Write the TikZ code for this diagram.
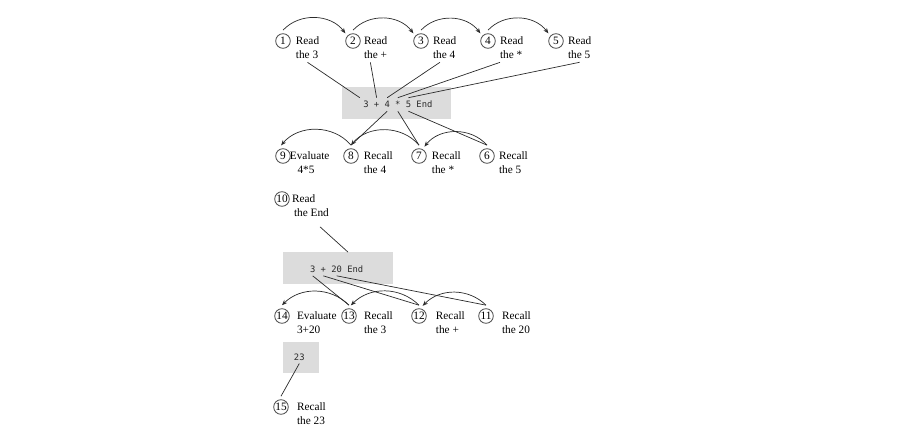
\documentclass[tikz,border=0pt]{standalone}
\usepackage{fontspec}
\setmainfont{Liberation Serif}
\newfontfamily\codefont{DejaVu Sans Mono}
\usetikzlibrary{arrows.meta}
\definecolor{stepgray}{HTML}{4A4A4A}
\definecolor{linegray}{HTML}{2B2B2B}
\definecolor{codebg}{HTML}{DCDCDC}
\tikzset{
	stepnum/.style={circle, draw=stepgray, line width=0.7pt, inner sep=0pt,
		minimum size=12.4pt, outer sep=3pt, font=\fontsize{9.6}{11.9}\selectfont},
	steptext/.style={anchor=base west, align=left, inner sep=0pt, yshift=-11.9pt,
		outer xsep=0pt, outer ysep=3pt, font=\fontsize{9.6}{11.9}\selectfont},
	codebox/.style={fill=codebg, inner sep=0pt},
	token/.style={anchor=base, inner sep=0pt, outer sep=3pt, text height=5.5pt,
		text depth=0pt, font=\codefont\fontsize{7.5}{9}\selectfont, text=linegray},
	link/.style={line width=0.6pt, draw=linegray},
	hop/.style={link, -{Stealth[length=4.5pt, width=3.6pt]}}
}

\begin{document}
\begin{tikzpicture}[x=0.85pt, y=-0.85pt]
	\useasboundingbox (0,0) rectangle (901,444);

	% first pass: read the tokens
	\node[stepnum] (c1) at (283,41) {1};
	\node[stepnum] (c2) at (353,41) {2};
	\node[stepnum] (c3) at (421,41) {3};
	\node[stepnum] (c4) at (488,41) {4};
	\node[stepnum] (c5) at (556,41) {5};
	\node[steptext] (t1) at ([xshift=11pt]c1.base) {Read\\the 3};
	\node[steptext] (t2) at ([xshift=9.4pt]c2.base) {Read\\the +};
	\node[steptext] (t3) at ([xshift=10.2pt]c3.base) {Read\\the 4};
	\node[steptext] (t4) at ([xshift=10.2pt]c4.base) {Read\\the *};
	\node[steptext] (t5) at ([xshift=10.2pt]c5.base) {Read\\the 5};

	\node[codebox, minimum width=92.65pt, minimum height=27.2pt] (box1) at (396.5,103) {};
	\node[token] (n3) at (366,107.7) {3};
	\node[token] (plus) at (376.6,107.7) {+};
	\node[token] (n4) at (387.2,107.7) {4};
	\node[token] (times) at (397.8,107.7) {*};
	\node[token] (n5) at (408.4,107.7) {5};
	\node[token] (end1) at (424.4,107.7) {End};

	% recall from the stack
	\node[stepnum] (c9) at (283,156) {9};
	\node[stepnum] (c8) at (351,156) {8};
	\node[stepnum] (c7) at (419,156) {7};
	\node[stepnum] (c6) at (487,156) {6};
	\node[steptext] (t9) at ([xshift=5.9pt]c9.base) {Evaluate\\\hspace*{6.5pt}4*5};
	\node[steptext] (t8) at ([xshift=11pt]c8.base) {Recall\\the 4};
	\node[steptext] (t7) at ([xshift=11pt]c7.base) {Recall\\the *};
	\node[steptext] (t6) at ([xshift=10.2pt]c6.base) {Recall\\the 5};

	\node[stepnum] (c10) at (282,199) {10};
	\node[steptext] (t10) at ([xshift=8.5pt]c10.base) {Read\\\hspace*{1.7pt}the End};

	\node[codebox, minimum width=93.5pt, minimum height=27.2pt] (box2) at (338.3,268.3) {};
	\node[token] (m3) at (312.7,272.3) {3};
	\node[token] (mplus) at (323.3,272.3) {+};
	\node[token] (m20) at (336.7,272.3) {20};
	\node[token] (end2) at (355.3,272.3) {End};

	\node[stepnum] (c14) at (282,316) {14};
	\node[stepnum] (c13) at (349,316) {13};
	\node[stepnum] (c12) at (419,316) {12};
	\node[stepnum] (c11) at (486,316) {11};
	\node[steptext] (t14) at ([xshift=12.75pt]c14.base) {Evaluate\\3+20};
	\node[steptext] (t13) at ([xshift=12.75pt]c13.base) {Recall\\the 3};
	\node[steptext] (t12) at ([xshift=14.4pt]c12.base) {Recall\\the +};
	\node[steptext] (t11) at ([xshift=13.6pt]c11.base) {Recall\\the 20};

	\node[codebox, minimum width=30.6pt, minimum height=26.35pt] (box3) at (301,357.5) {};
	\node[token] (r23) at (299.3,360) {23};

	\node[stepnum] (c15) at (281,407) {15};
	\node[steptext] (t15) at ([xshift=13.6pt]c15.base) {Recall\\the 23};

	% order of the steps
	\draw[hop] (c1.north) to[bend left=50] (c2.north west);
	\draw[hop] (c2.north) to[bend left=50] (c3.north west);
	\draw[hop] (c3.north) to[bend left=50] (c4.north west);
	\draw[hop] (c4.north) to[bend left=50] (c5.north west);
	\draw[hop] (c6.north) to[bend right=50] (c7.60);
	\draw[hop] (c7.north) to[bend right=50] (c8.north);
	\draw[hop] (c8.north) to[bend right=50] (c9.100);
	\draw[hop] (c11.north) to[bend right=45] (c12.70);
	\draw[hop] (c12.north) to[bend right=45] (c13.80);
	\draw[hop] (c13.north) to[bend right=45] (c14.north);

	% which token each step touches
	\draw[link] (t1.south) -- (n3.north west);
	\draw[link] ([xshift=-4.5pt]t2.south) -- (plus.north);
	\draw[link] ([xshift=-4pt]t3.south) -- (n4.north);
	\draw[link] (t4.south west) -- (times.north);
	\draw[link] (t5.south) -- (n5.north);
	\draw[link] (n4.south) -- (c8.north);
	\draw[link] (times.south) -- (c7.north);
	\draw[link] (n5.south) -- (c6.north);
	\draw[link] ([xshift=-7.5pt,yshift=-5.5pt]t10.south east) -- ([xshift=8.2pt]box2.north);
	\draw[link] (m3.south) -- (c13.north);
	\draw[link] (mplus.south) -- (c12.north);
	\draw[link] (m20.south) -- (c11.north);
	\draw[link] (r23.south) -- (c15.north);
\end{tikzpicture}
\end{document}
